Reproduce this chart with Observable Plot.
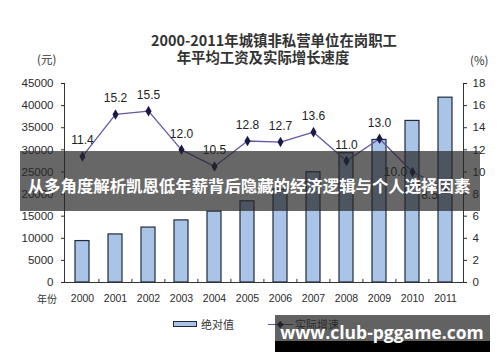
<!DOCTYPE html>
<html><head><meta charset="utf-8">
<script src="https://cdn.jsdelivr.net/npm/d3@7"></script>
<script src="https://cdn.jsdelivr.net/npm/@observablehq/plot@0.6"></script>
<style>
html,body{margin:0;padding:0;background:#fff;}
#wrap{position:relative;width:500px;height:362px;overflow:hidden;font-family:"Noto Sans CJK SC","Liberation Sans",sans-serif;}
.abs{position:absolute;white-space:nowrap;line-height:1;}
</style></head>
<body>
<div id="wrap"></div>
<script>
const years = ["2000","2001","2002","2003","2004","2005","2006","2007","2008","2009","2010","2011"];
const wages = [9371,10870,12422,14040,16024,18364,21001,24932,29229,32244,36539,41799];
const rates = [11.4,15.2,15.5,12.0,10.5,12.8,12.7,13.6,11.0,13.0,10.0,8.5];
const leftTicks = [0,5000,10000,15000,20000,25000,30000,35000,40000,45000];
const rightTicks = [0,2,4,6,8,10,12,14,16,18];
const titleLines = ["2000-2011年城镇非私营单位在岗职工","年平均工资及实际增长速度"];
const leftUnit = "(元)", rightUnit = "(%)", xName = "年份";
const legendLabels = ["绝对值","实际增速"];
const bannerText = "从多角度解析凯恩低年薪背后隐藏的经济逻辑与个人选择因素";
const siteText = "www.club-pggame.com";

const ratio = 2500; // 18% ↔ 45000元
const data = years.map((y,i)=>({year:y, wage:wages[i], rate:rates[i]}));
const barFill = "#a9c4e6", barStroke = "#1f2b3a", lineColor = "#6656a6", dotColor = "#1b1947";

const chart = Plot.plot({
  width:500, height:362,
  marginLeft:64, marginRight:37, marginTop:83, marginBottom:80,
  x:{type:"band", domain:years, paddingInner:0.57, paddingOuter:0.28, axis:null},
  y:{domain:[0,45000], axis:null},
  style:{fontFamily:"'Liberation Sans', Arial, sans-serif", fontSize:"11.5px", color:"#2a2a2a", background:"transparent"},
  marks:[
    Plot.barY(data,{x:"year", y:"wage", fill:barFill, stroke:barStroke, strokeWidth:1.2}),
    Plot.frame({anchor:"left", stroke:"#333"}),
    Plot.frame({anchor:"right", stroke:"#333"}),
    Plot.ruleY([0],{stroke:"#333"}),
    Plot.ruleX(years.slice(1),{x:d=>d, dx:-16.6, y1:0, y2:700, stroke:"#333"}),
    Plot.axisY({anchor:"left", label:null, ticks:leftTicks, tickSize:3, tickPadding:8, tickFormat:d=>String(d), fontSize:11.5}),
    Plot.axisY({anchor:"right", label:null, ticks:rightTicks.map(v=>v*ratio), tickFormat:d=>String(d/ratio), tickSize:3, tickPadding:6, fontSize:11.5}),
    Plot.axisX({anchor:"bottom", label:null, tickSize:0, tickPadding:12, fontSize:10.5}),
    Plot.line(data,{x:"year", y:d=>d.rate*ratio, stroke:lineColor, strokeWidth:1.3}),
    Plot.dot(data,{x:"year", y:d=>d.rate*ratio, symbol:"diamond", r:3.2, fill:dotColor}),
    Plot.text(data,{filter:d=>d.year<"2010", x:"year", y:d=>d.rate*ratio, text:d=>d.rate.toFixed(1), dy:-16, fontSize:12, fill:"#222"}),
    Plot.text(data,{filter:d=>d.year==="2010", x:"year", y:d=>d.rate*ratio, text:d=>d.rate.toFixed(1), dx:-17, dy:0, fontSize:12, fill:"#222"}),
    Plot.text(data,{filter:d=>d.year==="2011", x:"year", y:d=>d.rate*ratio, text:d=>d.rate.toFixed(1), dx:-16, dy:7, fontSize:12, fill:"#222"})
  ]
});
const wrap = document.getElementById("wrap");
chart.style.position="absolute"; chart.style.left="0"; chart.style.top="0";
wrap.appendChild(chart);

function addText(txt, css){
  const d=document.createElement("div"); d.className="abs"; d.textContent=txt;
  Object.assign(d.style, css); wrap.appendChild(d); return d;
}
function addBox(css){
  const d=document.createElement("div"); d.style.position="absolute";
  Object.assign(d.style, css); wrap.appendChild(d); return d;
}
// titles
addText(titleLines[0],{left:"274px",top:"40px",transform:"translate(-50%,-50%)",fontSize:"14.4px",fontWeight:"bold",color:"#333"});
addText(titleLines[1],{left:"263px",top:"57px",transform:"translate(-50%,-50%)",fontSize:"14.4px",fontWeight:"bold",color:"#333"});
addText(leftUnit,{left:"37px",top:"60px",transform:"translateY(-50%)",fontSize:"11.5px",color:"#333"});
addText(rightUnit,{left:"470px",top:"61px",transform:"translateY(-50%)",fontSize:"11.5px",color:"#333"});
addText(xName,{left:"37px",top:"299px",transform:"translateY(-50%)",fontSize:"10px",color:"#333"});
// legend
addBox({left:"173px",top:"321px",width:"22px",height:"4px",background:barFill,border:"1px solid "+barStroke});
addText(legendLabels[0],{left:"201px",top:"324px",transform:"translateY(-50%)",fontSize:"11px",color:"#333"});
addBox({left:"268px",top:"323.5px",width:"25px",height:"1.3px",background:lineColor});
addBox({left:"277.5px",top:"321.5px",width:"4.5px",height:"4.5px",background:dotColor,transform:"rotate(45deg)"});
addText(legendLabels[1],{left:"295px",top:"324px",transform:"translateY(-50%)",fontSize:"11px",color:"#333"});
// overlays
addBox({left:"20px",top:"151px",width:"460px",height:"60px",background:"rgba(38,38,38,0.7)"});
addText(bannerText,{left:"249px",top:"185px",transform:"translate(-50%,-50%)",fontSize:"16.4px",fontWeight:"bold",color:"#fff"});
addBox({left:"275px",top:"315px",width:"215px",height:"26px",background:"rgba(38,38,38,0.72)"});
addBox({left:"275px",top:"341px",width:"215px",height:"11px",background:"#000"});
addText(siteText,{left:"382px",top:"333px",transform:"translate(-50%,-50%)",fontSize:"17.5px",fontWeight:"bold",color:"#fff",fontFamily:"'Open Sans','Liberation Sans',sans-serif"});
</script>
</body></html>
